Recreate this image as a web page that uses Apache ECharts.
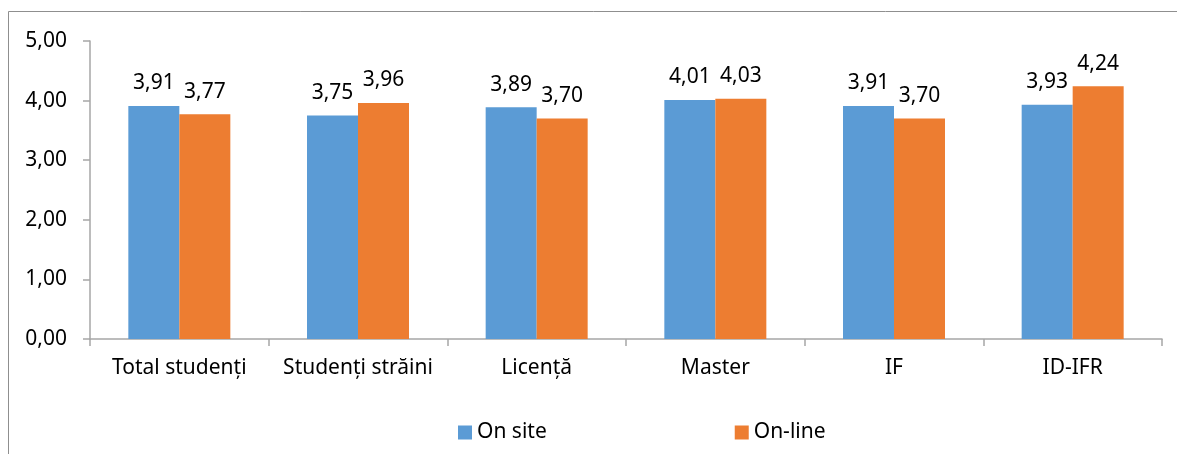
<!DOCTYPE html>
<html>
<head>
<meta charset="utf-8">
<script src="https://cdn.jsdelivr.net/npm/echarts@6/dist/echarts.min.js"></script>
<style>
  html, body { margin: 0; padding: 0; background: #fff; }
  #chart { width: 1177px; height: 454px; }
</style>
</head>
<body>
<div id="chart"></div>
<script>
// Categories and mean scores per study form
const categories = ['Total studenți', 'Studenți străini', 'Licență', 'Master', 'IF', 'ID-IFR'];
const onSite = [3.91, 3.75, 3.89, 4.01, 3.91, 3.93];
const onLine = [3.77, 3.96, 3.70, 4.03, 3.70, 4.24];
const seriesNames = ['On site', 'On-line'];
const yTicks = { min: 0, max: 5, interval: 1 };

const FONT = '"Noto Sans", sans-serif';
const SIZE = 21;
const fmt = v => v.toFixed(2).replace('.', ',');

const chart = echarts.init(document.getElementById('chart'), null, { renderer: 'canvas' });

const barLabel = {
  show: true,
  position: 'top',
  distance: 12,
  color: '#000',
  fontFamily: FONT,
  fontSize: SIZE,
  formatter: p => fmt(p.value)
};

chart.setOption({
  animation: false,
  backgroundColor: '#fff',
  graphic: [{
    type: 'rect',
    shape: { x: 8.5, y: 11.5, width: 1300, height: 600 },
    style: { fill: 'none', stroke: '#8f8f8f', lineWidth: 1 },
    silent: true,
    z: -1
  }],
  grid: { left: 90, right: 15, top: 41, bottom: 115, containLabel: false },
  legend: {
    top: 417,
    left: 453,
    itemWidth: 14,
    itemHeight: 14,
    itemGap: 188,
    icon: 'rect',
    textStyle: { color: '#000', fontFamily: FONT, fontSize: SIZE },
    data: seriesNames
  },
  xAxis: {
    type: 'category',
    data: categories,
    axisLine: { show: true, lineStyle: { color: '#a6a6a6', width: 1.5 } },
    axisTick: { show: true, alignWithLabel: false, interval: 0, length: 7, lineStyle: { color: '#a6a6a6', width: 1.5 } },
    axisLabel: { color: '#000', fontFamily: FONT, fontSize: SIZE, margin: 19, interval: 0 }
  },
  yAxis: {
    type: 'value',
    min: yTicks.min,
    max: yTicks.max,
    interval: yTicks.interval,
    axisLine: { show: true, lineStyle: { color: '#a6a6a6', width: 1.5 } },
    axisTick: { show: true, inside: false, length: 7, lineStyle: { color: '#a6a6a6', width: 1.5 } },
    splitLine: { show: false },
    axisLabel: { color: '#000', fontFamily: FONT, fontSize: SIZE, margin: 23, formatter: v => fmt(v) }
  },
  series: [
    {
      name: seriesNames[0],
      type: 'bar',
      data: onSite,
      barWidth: 51,
      barGap: '0%',
      itemStyle: { color: '#5b9bd5' },
      label: barLabel
    },
    {
      name: seriesNames[1],
      type: 'bar',
      data: onLine,
      barWidth: 51,
      barGap: '0%',
      itemStyle: { color: '#ed7d31' },
      label: barLabel
    }
  ]
});
</script>
</body>
</html>
